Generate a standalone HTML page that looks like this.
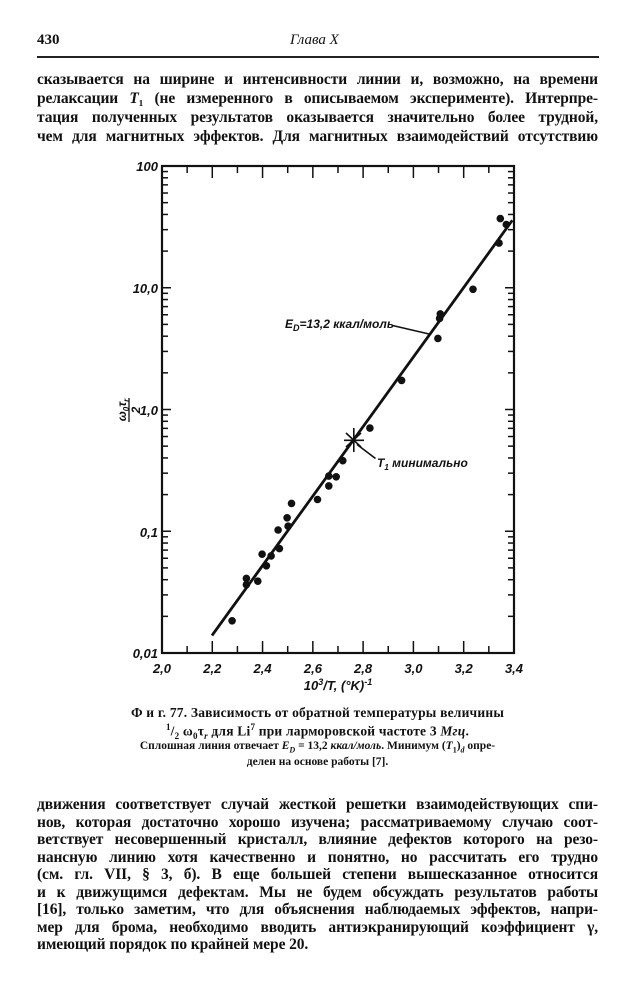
<!DOCTYPE html>
<html><head><meta charset="utf-8"><style>
body{margin:0;width:635px;height:1000px;background:#fff;position:relative;overflow:hidden;font-family:"Liberation Serif","Noto Serif CJK SC",serif;color:#111}
.l{position:absolute;left:37px;width:561px;font-size:15.5px;line-height:18px;text-align:justify;text-align-last:justify;white-space:nowrap;font-weight:bold;letter-spacing:-0.1px}
.l.n{text-align-last:left}
.c{position:absolute;left:110px;width:415px;text-align:center;font-weight:bold;white-space:nowrap}
</style></head><body>
<div style="position:absolute;left:37px;top:32px;font-size:15px;font-weight:bold">430</div>
<div style="position:absolute;left:290px;top:32px;font-size:15px;font-style:italic">Глава X</div>
<div style="position:absolute;left:37px;top:56px;width:562px;height:2px;background:#222"></div>
<div class="l" style="top:71px">сказывается на ширине и интенсивности линии и, возможно, на времени</div>
<div class="l" style="top:90px">релаксации <i>T</i>₁ (не измеренного в описываемом эксперименте). Интерпре-</div>
<div class="l" style="top:109px">тация полученных результатов оказывается значительно более трудной,</div>
<div class="l" style="top:128px">чем для магнитных эффектов. Для магнитных взаимодействий отсутствию</div>

<svg style="position:absolute;left:0;top:0" width="635" height="1000">
<g stroke="#111" fill="none">
<rect x="162" y="166" width="352" height="487" stroke-width="2.2"/>
</g>
<g id="ticks" stroke="#111" stroke-width="1.5"></g>
<line x1="212" y1="635.5" x2="512.3" y2="220.3" stroke="#111" stroke-width="2.8"/>
<g stroke="#111" stroke-width="1.6">
<line x1="344" y1="440.3" x2="364" y2="440.3"/><line x1="353.8" y1="428" x2="353.8" y2="452"/>
<line x1="346" y1="433" x2="361" y2="447"/><line x1="346" y1="447" x2="361" y2="433"/>
<line x1="357" y1="444.5" x2="375.5" y2="458.5"/>
<line x1="392" y1="325.4" x2="429" y2="334"/>
</g>
<g fill="#111">
<circle cx="232.1" cy="620.8" r="3.8"/><circle cx="246.4" cy="578.4" r="3.8"/><circle cx="246.4" cy="584.7" r="3.8"/><circle cx="257.8" cy="581.2" r="3.8"/><circle cx="262.1" cy="554.2" r="3.8"/><circle cx="266.4" cy="565.8" r="3.8"/><circle cx="271.1" cy="555.9" r="3.8"/><circle cx="278.1" cy="530" r="3.8"/><circle cx="279.4" cy="548.6" r="3.8"/><circle cx="287.1" cy="517.8" r="3.8"/><circle cx="288.1" cy="526.2" r="3.8"/><circle cx="291.5" cy="503.4" r="3.8"/><circle cx="317.5" cy="499.5" r="3.8"/><circle cx="328.8" cy="485.9" r="3.8"/><circle cx="328.8" cy="476.1" r="3.8"/><circle cx="336.2" cy="476.8" r="3.8"/><circle cx="342.8" cy="460.7" r="3.8"/><circle cx="369.9" cy="428.1" r="3.8"/><circle cx="401.6" cy="380.4" r="3.8"/><circle cx="437.9" cy="338.4" r="3.8"/><circle cx="439.6" cy="318.4" r="3.8"/><circle cx="440.3" cy="313.9" r="3.8"/><circle cx="473" cy="289.3" r="3.8"/><circle cx="499" cy="243.1" r="3.8"/><circle cx="500.3" cy="218.6" r="3.8"/><circle cx="506.3" cy="224.5" r="3.8"/>
</g>
<g font-family="Liberation Sans,sans-serif" font-style="italic" font-weight="bold" font-size="13" fill="#111" text-anchor="end">
<text x="158" y="171">100</text><text x="158" y="293">10,0</text><text x="158" y="415">1,0</text><text x="158" y="537">0,1</text><text x="158" y="658">0,01</text>
</g>
<g font-family="Liberation Sans,sans-serif" font-style="italic" font-weight="bold" font-size="13" fill="#111" text-anchor="middle">
<text x="162" y="673">2,0</text><text x="212.3" y="673">2,2</text><text x="262.6" y="673">2,4</text><text x="312.9" y="673">2,6</text><text x="363.1" y="673">2,8</text><text x="413.4" y="673">3,0</text><text x="463.7" y="673">3,2</text><text x="514" y="673">3,4</text>
<text x="338" y="690">10<tspan font-size="9" dy="-5">3</tspan><tspan dy="5">/T, (°K)</tspan><tspan font-size="9" dy="-5">-1</tspan></text>
</g>
<g font-family="Liberation Sans,sans-serif" font-style="italic" font-weight="bold" font-size="12" fill="#111">
<text x="285" y="328">E<tspan font-size="9" dy="3">D</tspan><tspan dy="-3">=13,2 ккал/моль</tspan></text>
<text x="377" y="467">T<tspan font-size="8" dy="3">1</tspan><tspan dy="-3"> минимально</tspan></text>
<g transform="translate(128,410) rotate(-90)" text-anchor="middle">
<text x="0" y="-2">ω<tspan font-size="8" dy="3">0</tspan><tspan dy="-3">τ</tspan><tspan font-size="8" dy="3">r</tspan></text>
<line x1="-12" y1="1" x2="12" y2="1" stroke="#111" stroke-width="1.3"/>
<text x="0" y="12">2</text>
</g>
</g>
</svg>

<div class="c" style="top:705px;font-size:13.5px;letter-spacing:0.2px">Ф и г. 77. Зависимость от обратной температуры величины</div>
<div class="c" style="top:722px;font-size:13.5px;letter-spacing:0.2px"><sup style="font-size:9px">1</sup>/<sub style="font-size:9px">2</sub> ω<sub style="font-size:9px">0</sub>τ<sub style="font-size:9px"><i>r</i></sub> для Li<sup style="font-size:9px">7</sup> при ларморовской частоте 3 <i>Мгц</i>.</div>
<div class="c" style="top:740px;font-size:11.5px">Сплошная линия отвечает <i>E<sub style="font-size:8px">D</sub></i> = 13,2 <i>ккал/моль</i>. Минимум (<i>T</i><sub style="font-size:8px">1</sub>)<sub style="font-size:8px"><i>d</i></sub> опре-</div>
<div class="c" style="top:756px;font-size:11.5px">делен на основе работы [7].</div>

<div class="l" style="top:796px">движения соответствует случай жесткой решетки взаимодействующих спи-</div>
<div class="l" style="top:813.5px">нов, которая достаточно хорошо изучена; рассматриваемому случаю соот-</div>
<div class="l" style="top:831px">ветствует несовершенный кристалл, влияние дефектов которого на резо-</div>
<div class="l" style="top:848.5px">нансную линию хотя качественно и понятно, но рассчитать его трудно</div>
<div class="l" style="top:866px">(см. гл. VII, § 3, б). В еще большей степени вышесказанное относится</div>
<div class="l" style="top:883.5px">и к движущимся дефектам. Мы не будем обсуждать результатов работы</div>
<div class="l" style="top:901px">[16], только заметим, что для объяснения наблюдаемых эффектов, напри-</div>
<div class="l" style="top:918.5px">мер для брома, необходимо вводить антиэкранирующий коэффициент γ,</div>
<div class="l n" style="top:936px">имеющий порядок по крайней мере 20.</div>

<script>
var g=document.getElementById('ticks'),s='';
for(var d=0;d<4;d++){for(var k=1;k<10;k++){var y=653-(d+Math.log10(k))*121.75;var L=k==1?9:6;
if(k>1||d>0){s+='<line x1="162" y1="'+y+'" x2="'+(162+L)+'" y2="'+y+'"/>';s+='<line x1="514" y1="'+y+'" x2="'+(514-L)+'" y2="'+y+'"/>';}}}
for(var i=1;i<14;i++){var x=162+i*25.14;var L=i%2==0?12:7;s+='<line x1="'+x+'" y1="653" x2="'+x+'" y2="'+(653-L)+'"/>';s+='<line x1="'+x+'" y1="166" x2="'+x+'" y2="'+(166+L)+'"/>';}
g.innerHTML=s;
</script>
</body></html>
